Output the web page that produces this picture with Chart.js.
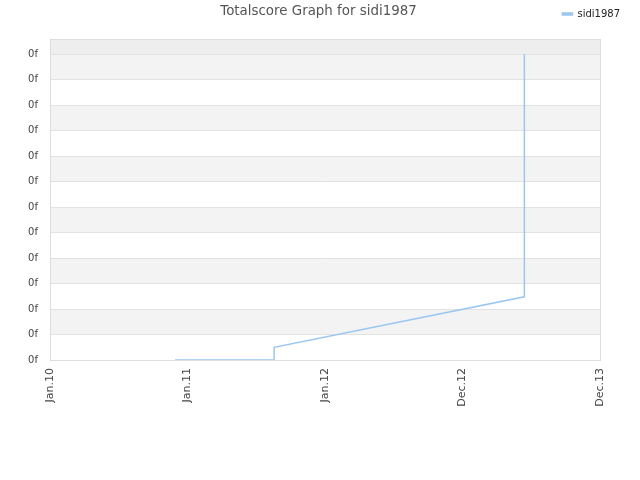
<!DOCTYPE html>
<html><head><meta charset="utf-8">
<script src="https://cdn.jsdelivr.net/npm/chart.js@4/dist/chart.umd.min.js"></script>
<style>html,body{margin:0;padding:0;background:#fff}#wrap{width:640px;height:480px}</style>
</head><body><div id="wrap"><canvas id="c" width="640" height="480"></canvas></div>
<script>
const titleText = "Totalscore Graph for sidi1987";
const seriesName = "sidi1987";
const xTickLabels = ["Jan.10", "Jan.11", "Jan.12", "Dec.12", "Dec.13"];
const xTickValues = [0, 1, 2, 3, 4];
const yTickValues = [0,1,2,3,4,5,6,7,8,9,10,11,12];
const yTickLabel = "0f";
const seriesX = [0.91, 1.63, 1.63, 3.45, 3.45];
const seriesY = [0, 0, 0.5, 2.48, 12];
const yMax = 12.6;

const FONT = "'DejaVu Sans', sans-serif";
const bandPlugin = {
  id: 'bands',
  beforeUpdate(chart) {
    const lg = chart.legend;
    if (lg && !lg._patched) {
      const f = lg.fit.bind(lg);
      lg.fit = function() { f(); this.height += 10; };
      lg._patched = true;
    }
  },
  beforeDraw(chart) {
    const {ctx, chartArea: a, scales: {y}} = chart;
    ctx.save();
    ctx.fillStyle = '#ffffff';
    ctx.fillRect(a.left, a.top, a.right - a.left, a.bottom - a.top);
    for (let i = 0; i < yTickValues.length - 1; i++) {
      if ((yTickValues.length - 2 - i) % 2 === 0) {
        const y1 = y.getPixelForValue(yTickValues[i + 1]);
        const y0 = y.getPixelForValue(yTickValues[i]);
        ctx.fillStyle = '#f3f3f3';
        ctx.fillRect(a.left, y1, a.right - a.left, y0 - y1);
      }
    }
    const yt = y.getPixelForValue(yTickValues[yTickValues.length - 1]);
    ctx.fillStyle = '#eeeeee';
    ctx.fillRect(a.left, a.top, a.right - a.left, yt - a.top);
    ctx.restore();
  },
  afterDraw(chart) {
    const {ctx, chartArea: a} = chart;
    ctx.save();
    ctx.strokeStyle = '#dddddd';
    ctx.lineWidth = 1;
    ctx.strokeRect(Math.round(a.left) + 0.5, Math.round(a.top) + 0.5, Math.round(a.right - a.left), Math.round(a.bottom - a.top));
    ctx.fillStyle = '#555555';
    ctx.font = "13.4px " + FONT;
    ctx.textAlign = 'center';
    ctx.textBaseline = 'middle';
    ctx.fillText(titleText, 318.5, 12);
    ctx.restore();
  }
};

new Chart(document.getElementById('c'), {
  type: 'line',
  data: {
    datasets: [{
      label: seriesName,
      data: seriesX.map((x, i) => ({x: x, y: seriesY[i]})),
      borderColor: '#99c7f2',
      backgroundColor: '#99c7f2',
      borderWidth: 1.5,
      pointRadius: 0,
      tension: 0,
      fill: false
    }]
  },
  options: {
    responsive: false,
    animation: false,
    layout: {padding: {top: 0, right: 11, bottom: 0, left: 0}},
    plugins: {
      title: {display: false},
      tooltip: {enabled: false},
      legend: {
        display: true,
        position: 'top',
        align: 'end',
        labels: {
          boxWidth: 10, boxHeight: 2, color: '#222', padding: 9,
          font: {family: FONT, size: 10}
        }
      }
    },
    scales: {
      x: {
        type: 'linear', min: 0, max: 4,
        afterBuildTicks: s => { s.ticks = xTickValues.map(v => ({value: v})); },
        afterFit: s => { s.height = 120; },
        grid: {display: false, drawTicks: false},
        border: {color: '#dddddd'},
        ticks: {
          minRotation: 90, maxRotation: 90, padding: 8,
          color: '#444', font: {family: FONT, size: 11},
          callback: (v, i) => xTickLabels[i]
        }
      },
      y: {
        min: 0, max: yMax,
        afterBuildTicks: s => { s.ticks = yTickValues.map(v => ({value: v})); },
        afterFit: s => { s.width = 50; },
        grid: {color: '#e2e2e2', drawTicks: false},
        border: {color: '#dddddd'},
        ticks: {
          padding: 12, color: '#444', font: {family: FONT, size: 10},
          callback: () => yTickLabel
        }
      },
      yr: {
        position: 'right', display: true,
        afterFit: s => { s.width = 29; },
        grid: {display: false, drawTicks: false},
        border: {display: false},
        ticks: {display: false}
      }
    }
  },
  plugins: [bandPlugin]
});
</script></body></html>
